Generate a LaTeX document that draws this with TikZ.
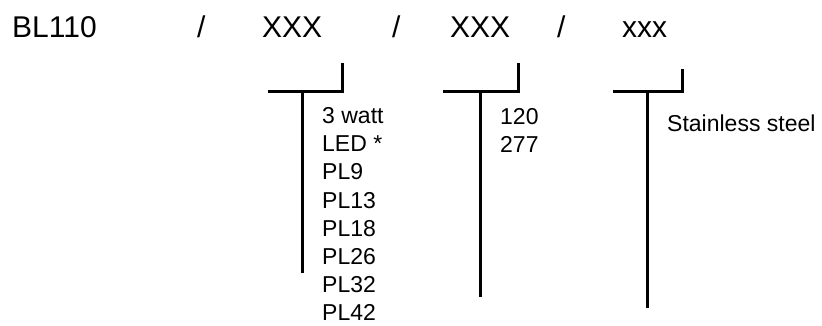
\documentclass[tikz,border=0pt]{standalone}
\usepackage{fontspec}
\setmainfont{Liberation Sans}
\begin{document}
\begin{tikzpicture}[x=1pt,y=-1pt,
  hdr/.style={anchor=base west,inner sep=0pt,font=\fontsize{30}{36}\selectfont},
  item/.style={anchor=base west,inner sep=0pt,font=\fontsize{23}{28}\selectfont},
  brk/.style={line width=3pt,line join=miter,line cap=butt}]
\useasboundingbox (0,0) rectangle (822,326);
% header
\node[hdr] (code) at (12,38) {BL110};
\node[hdr] (s1) at (197,38) {/};
\node[hdr] (f1) at (262,38) {XXX};
\node[hdr] (s2) at (392,38) {/};
\node[hdr] (f2) at (450,38) {XXX};
\node[hdr] (s3) at (557,38) {/};
\node[hdr] (f3) at (622,38) {xxx};
% bracket 1
\coordinate (b1top) at (342,63);
\coordinate (b1left) at (268,92);
\coordinate (b1stem) at (302,92);
\coordinate (b1end) at (302,273);
\draw[brk] (b1top) |- (b1left);
\draw[brk] (b1stem) -- (b1end);
% bracket 2
\coordinate (b2top) at (518,63);
\coordinate (b2left) at (443,92);
\coordinate (b2stem) at (480,92);
\coordinate (b2end) at (480,297);
\draw[brk] (b2top) |- (b2left);
\draw[brk] (b2stem) -- (b2end);
% bracket 3
\coordinate (b3top) at (682,69);
\coordinate (b3left) at (613,92);
\coordinate (b3stem) at (647,92);
\coordinate (b3end) at (647,308);
\draw[brk] (b3top) |- (b3left);
\draw[brk] (b3stem) -- (b3end);
% list 1
\foreach \t [count=\i from 0] in {3 watt,LED *,PL9,PL13,PL18,PL26,PL32,PL42}
  \node[item] (l1-\i) at (322,123.5+28.2*\i) {\t};
% list 2
\node[item] (l2-0) at (500,124.5) {120};
\node[item] (l2-1) at (500,153) {277};
% list 3
\node[item] (l3-0) at (667,132) {Stainless steel};
\end{tikzpicture}
\end{document}
